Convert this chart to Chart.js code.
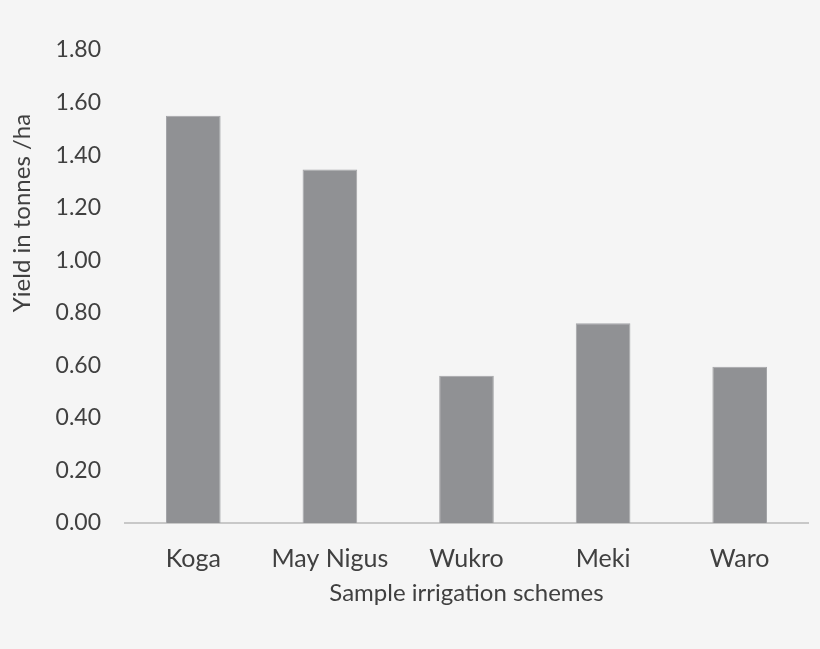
<!DOCTYPE html>
<html>
<head>
<meta charset="utf-8">
<script src="https://cdn.jsdelivr.net/npm/chart.js@4/dist/chart.umd.min.js"></script>
<style>
  html, body { margin: 0; padding: 0; background: #f5f5f5; }
  #wrap { width: 820px; height: 649px; }
</style>
</head>
<body>
<div id="wrap"><canvas id="yield"></canvas></div>
<script>
// yield per scheme, tonnes/ha
const schemes = ['Koga', 'May Nigus', 'Wukro', 'Meki', 'Waro'];
const yields = [1.55, 1.345, 0.56, 0.76, 0.595];
const yTitle = 'Yield in tonnes /ha';

const bgPlugin = {
  id: 'bg',
  beforeDraw(chart) {
    const c = chart.ctx;
    c.save();
    c.fillStyle = '#f5f5f5';
    c.fillRect(0, 0, chart.width, chart.height);
    c.restore();
  }
};

// y title sits above centre in the original, so draw it by hand
const yTitlePlugin = {
  id: 'ytitle',
  afterDraw(chart) {
    const c = chart.ctx;
    c.save();
    c.translate(22, 213);
    c.rotate(-Math.PI / 2);
    c.font = '24px Lato';
    c.fillStyle = '#404040';
    c.textAlign = 'center';
    c.textBaseline = 'middle';
    c.fillText(yTitle, 0, 0);
    c.restore();
  }
};

Chart.defaults.font.family = 'Lato';
Chart.defaults.color = '#404040';

var ctx = document.getElementById('yield').getContext('2d');
const yieldChart = new Chart(ctx, {
  type: 'bar',
  data: {
    labels: schemes,
    datasets: [{
      label: 'Yield',
      data: yields,
      backgroundColor: '#909194',
      borderColor: '#a4a5a8',
      borderWidth: 1,
      categoryPercentage: 1,
      barPercentage: 0.4
    }]
  },
  options: {
    responsive: true,
    maintainAspectRatio: false,
    animation: false,
    layout: { padding: { top: 50, right: 12, left: 9, bottom: 41 } },
    plugins: { legend: { display: false }, tooltip: { enabled: false } },
    scales: {
      x: {
        grid: { display: false },
        border: { display: true, color: '#c8c8c8', width: 2 },
        ticks: { font: { size: 25 }, padding: 13, color: '#404040' },
        title: { display: true, text: 'Sample irrigation schemes', font: { size: 24 }, color: '#404040', padding: 0 },
        afterFit(scale) { scale.height = 85; }
      },
      y: {
        min: 0,
        max: 1.8,
        grid: { display: false, drawTicks: false },
        border: { display: false },
        ticks: {
          stepSize: 0.2,
          font: { size: 23 },
          padding: 24,
          color: '#404040',
          callback: v => v.toFixed(2)
        },
        afterFit(scale) { scale.width = 116; }
      }
    }
  },
  plugins: [bgPlugin, yTitlePlugin]
});
</script>
</body>
</html>
